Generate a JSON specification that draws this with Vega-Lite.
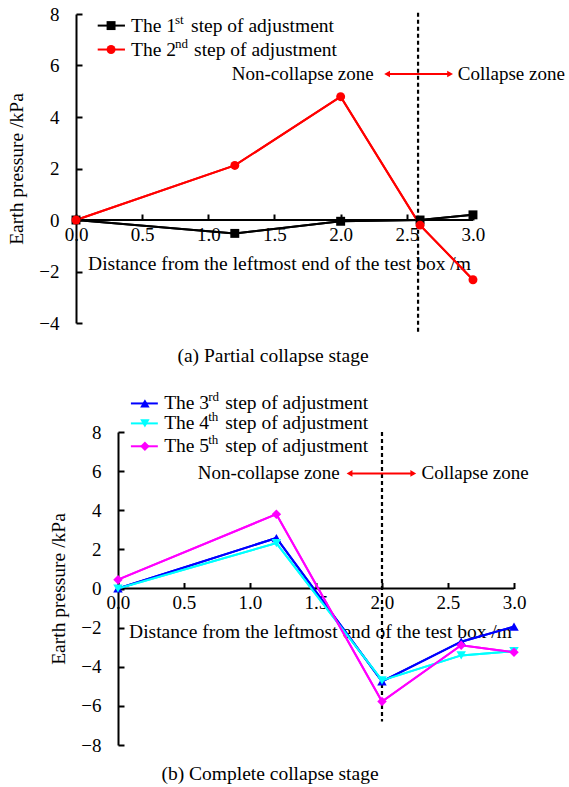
{
  "$schema": "https://vega.github.io/schema/vega-lite/v6.json",
  "padding": {"left": 6, "top": 5, "right": 0, "bottom": 0},
  "bounds": "flush",
  "spacing": 109,
  "resolve": {"scale": {"color": "independent", "shape": "independent"}},
  "datasets": {
    "one": [{}],
    "top": [
      {"x": 0, "y": 0, "series": "1st"},
      {"x": 1.2, "y": -0.52, "series": "1st"},
      {"x": 2.0, "y": -0.05, "series": "1st"},
      {"x": 2.6, "y": 0.0, "series": "1st"},
      {"x": 3.0, "y": 0.2, "series": "1st"},
      {"x": 0, "y": 0, "series": "2nd"},
      {"x": 1.2, "y": 2.12, "series": "2nd"},
      {"x": 2.0, "y": 4.79, "series": "2nd"},
      {"x": 2.6, "y": -0.2, "series": "2nd"},
      {"x": 3.0, "y": -2.32, "series": "2nd"}
    ],
    "bottom": [
      {"x": 0, "y": 0.0, "series": "3rd"},
      {"x": 1.2, "y": 2.58, "series": "3rd"},
      {"x": 2.0, "y": -4.75, "series": "3rd"},
      {"x": 2.6, "y": -2.72, "series": "3rd"},
      {"x": 3.0, "y": -1.95, "series": "3rd"},
      {"x": 0, "y": 0.0, "series": "4th"},
      {"x": 1.2, "y": 2.32, "series": "4th"},
      {"x": 2.0, "y": -4.7, "series": "4th"},
      {"x": 2.6, "y": -3.42, "series": "4th"},
      {"x": 3.0, "y": -3.2, "series": "4th"},
      {"x": 0, "y": 0.45, "series": "5th"},
      {"x": 1.2, "y": 3.8, "series": "5th"},
      {"x": 2.0, "y": -5.78, "series": "5th"},
      {"x": 2.6, "y": -2.9, "series": "5th"},
      {"x": 3.0, "y": -3.26, "series": "5th"}
    ]
  },
  "vconcat": [
    {
      "width": 438,
      "height": 309,
      "title": {"text": "(a) Partial collapse stage", "orient": "bottom", "anchor": "middle", "frame": "group", "offset": 13, "dx": -22},
      "layer": [
        {
          "data": {"name": "top"},
          "mark": {"type": "line", "strokeWidth": 2},
          "encoding": {
            "x": {"field": "x", "type": "quantitative",
              "scale": {"domain": [0, 3.31], "nice": false, "zero": false},
              "axis": {"orient": "bottom", "offset": -103, "domain": false, "values": [0, 0.5, 1, 1.5, 2, 2.5, 3], "format": ".1f", "labelFlush": false, "labelOverlap": false, "tickSize": -6, "labelPadding": 11, "title": "Distance from the leftmost end of the test box /m", "titlePadding": 10, "titleX": 203}},
            "y": {"field": "y", "type": "quantitative",
              "scale": {"domain": [-4, 8], "nice": false},
              "axis": {"values": [-4, -2, 0, 2, 4, 6, 8], "labelOverlap": false, "tickSize": -6, "labelPadding": 23, "title": "Earth pressure /kPa", "titlePadding": 12}},
            "color": {"field": "series", "type": "nominal", "scale": {"domain": ["1st", "2nd"], "range": ["#000000", "#ff0000"]}, "legend": null}
          }
        },
        {
          "data": {"name": "one"},
          "mark": {"type": "rule", "color": "black", "strokeWidth": 2},
          "encoding": {"x": {"datum": 0}, "x2": {"datum": 3}, "y": {"datum": 0}}
        },
        {
          "data": {"name": "top"},
          "mark": {"type": "line", "strokeWidth": 2},
          "encoding": {
            "x": {"field": "x", "type": "quantitative"},
            "y": {"field": "y", "type": "quantitative"},
            "color": {"field": "series", "type": "nominal", "legend": null}
          }
        },
        {
          "data": {"name": "one"},
          "mark": {"type": "rule", "color": "black", "strokeWidth": 2.2, "strokeDash": [4, 3]},
          "encoding": {"x": {"datum": 2.585}, "y": {"datum": 8.05}, "y2": {"datum": -4.4}}
        },
        {
          "data": {"name": "top"},
          "mark": {"type": "point", "filled": true, "size": 80, "opacity": 1},
          "encoding": {
            "x": {"field": "x", "type": "quantitative"},
            "y": {"field": "y", "type": "quantitative"},
            "color": {"field": "series", "type": "nominal", "legend": null},
            "shape": {"field": "series", "type": "nominal", "scale": {"domain": ["1st", "2nd"], "range": ["square", "circle"]}, "legend": null}
          }
        },
        {"data": {"name": "one"}, "mark": {"type": "rule", "color": "#000000", "strokeWidth": 2}, "encoding": {"x": {"datum": 0.164}, "x2": {"datum": 0.37}, "y": {"datum": 7.55}}},
        {"data": {"name": "one"}, "mark": {"type": "point", "shape": "square", "filled": true, "opacity": 1, "size": 80, "color": "#000000"}, "encoding": {"x": {"datum": 0.265}, "y": {"datum": 7.55}}},
        {"data": {"name": "one"}, "mark": {"type": "text", "text": "The 1", "align": "left", "baseline": "middle", "fontSize": 19.5}, "encoding": {"x": {"datum": 0.416}, "y": {"datum": 7.55}}},
        {"data": {"name": "one"}, "mark": {"type": "text", "text": "st", "align": "left", "baseline": "middle", "fontSize": 13, "dx": 44, "dy": -6}, "encoding": {"x": {"datum": 0.416}, "y": {"datum": 7.55}}},
        {"data": {"name": "one"}, "mark": {"type": "text", "text": "step of adjustment", "align": "left", "baseline": "middle", "fontSize": 19.5, "dx": 60}, "encoding": {"x": {"datum": 0.416}, "y": {"datum": 7.55}}},
        {"data": {"name": "one"}, "mark": {"type": "rule", "color": "#ff0000", "strokeWidth": 2}, "encoding": {"x": {"datum": 0.164}, "x2": {"datum": 0.37}, "y": {"datum": 6.62}}},
        {"data": {"name": "one"}, "mark": {"type": "point", "shape": "circle", "filled": true, "opacity": 1, "size": 80, "color": "#ff0000"}, "encoding": {"x": {"datum": 0.265}, "y": {"datum": 6.62}}},
        {"data": {"name": "one"}, "mark": {"type": "text", "text": "The 2", "align": "left", "baseline": "middle", "fontSize": 19.5}, "encoding": {"x": {"datum": 0.416}, "y": {"datum": 6.62}}},
        {"data": {"name": "one"}, "mark": {"type": "text", "text": "nd", "align": "left", "baseline": "middle", "fontSize": 13, "dx": 44, "dy": -6}, "encoding": {"x": {"datum": 0.416}, "y": {"datum": 6.62}}},
        {"data": {"name": "one"}, "mark": {"type": "text", "text": "step of adjustment", "align": "left", "baseline": "middle", "fontSize": 19.5, "dx": 63}, "encoding": {"x": {"datum": 0.416}, "y": {"datum": 6.62}}},
        {"data": {"name": "one"}, "mark": {"type": "text", "text": "Non-collapse zone", "align": "right", "baseline": "middle", "fontSize": 19}, "encoding": {"x": {"datum": 2.25}, "y": {"datum": 5.67}}},
        {"data": {"name": "one"}, "mark": {"type": "text", "text": "Collapse zone", "align": "left", "baseline": "middle", "fontSize": 19}, "encoding": {"x": {"datum": 2.885}, "y": {"datum": 5.67}}},
        {"data": {"name": "one"}, "mark": {"type": "rule", "color": "#ff0000", "strokeWidth": 2}, "encoding": {"x": {"datum": 2.35}, "x2": {"datum": 2.83}, "y": {"datum": 5.67}}},
        {"data": {"name": "one"}, "mark": {"type": "point", "shape": "triangle-left", "filled": true, "opacity": 1, "size": 45, "color": "#ff0000"}, "encoding": {"x": {"datum": 2.351}, "y": {"datum": 5.67}}},
        {"data": {"name": "one"}, "mark": {"type": "point", "shape": "triangle-right", "filled": true, "opacity": 1, "size": 45, "color": "#ff0000"}, "encoding": {"x": {"datum": 2.827}, "y": {"datum": 5.67}}}
      ]
    },
    {
      "width": 438,
      "height": 313,
      "title": {"text": "(b) Complete collapse stage", "orient": "bottom", "anchor": "middle", "frame": "group", "offset": 10, "dx": -25},
      "layer": [
        {
          "data": {"name": "bottom"},
          "mark": {"type": "line", "strokeWidth": 2},
          "encoding": {
            "x": {"field": "x", "type": "quantitative",
              "scale": {"domain": [-0.318, 3], "nice": false, "zero": false},
              "axis": {"orient": "bottom", "offset": -156.5, "domain": false, "values": [0, 0.5, 1, 1.5, 2, 2.5, 3], "format": ".1f", "labelFlush": false, "labelOverlap": false, "tickSize": -6, "labelPadding": 11, "title": "Distance from the leftmost end of the test box /m", "titlePadding": 10, "titleX": 244}},
            "y": {"field": "y", "type": "quantitative",
              "scale": {"domain": [-8, 8], "nice": false},
              "axis": {"offset": -42, "values": [-8, -6, -4, -2, 0, 2, 4, 6, 8], "tickCount": 9, "labelOverlap": false, "labelSeparation": 0, "tickSize": -6, "labelPadding": 23, "title": "Earth pressure /kPa", "titlePadding": 12}},
            "color": {"field": "series", "type": "nominal", "scale": {"domain": ["3rd", "4th", "5th"], "range": ["#0000ff", "#00ffff", "#ff00ff"]}, "legend": null}
          }
        },
        {
          "data": {"name": "one"},
          "mark": {"type": "rule", "color": "black", "strokeWidth": 2},
          "encoding": {"x": {"datum": 0}, "x2": {"datum": 3}, "y": {"datum": 0}}
        },
        {
          "data": {"name": "one"},
          "mark": {"type": "rule", "color": "black", "strokeWidth": 2.2, "strokeDash": [4, 3]},
          "encoding": {"x": {"datum": 2.0}, "y": {"datum": 8.0}, "y2": {"datum": -6.8}}
        },
        {
          "data": {"name": "bottom"},
          "mark": {"type": "line", "strokeWidth": 2},
          "encoding": {
            "x": {"field": "x", "type": "quantitative"},
            "y": {"field": "y", "type": "quantitative"},
            "color": {"field": "series", "type": "nominal", "legend": null}
          }
        },
        {
          "data": {"name": "bottom"},
          "mark": {"type": "point", "filled": true, "size": 90, "opacity": 1},
          "encoding": {
            "x": {"field": "x", "type": "quantitative"},
            "y": {"field": "y", "type": "quantitative"},
            "color": {"field": "series", "type": "nominal", "legend": null},
            "shape": {"field": "series", "type": "nominal", "scale": {"domain": ["3rd", "4th", "5th"], "range": ["triangle-up", "triangle-down", "diamond"]}, "legend": null}
          }
        },
        {"data": {"name": "one"}, "mark": {"type": "rule", "color": "#0000ff", "strokeWidth": 2}, "encoding": {"x": {"datum": 0.098}, "x2": {"datum": 0.302}, "y": {"datum": 9.46}}},
        {"data": {"name": "one"}, "mark": {"type": "point", "shape": "triangle-up", "filled": true, "opacity": 1, "size": 90, "color": "#0000ff"}, "encoding": {"x": {"datum": 0.204}, "y": {"datum": 9.46}}},
        {"data": {"name": "one"}, "mark": {"type": "text", "text": "The 3", "align": "left", "baseline": "middle", "fontSize": 19.5}, "encoding": {"x": {"datum": 0.35}, "y": {"datum": 9.46}}},
        {"data": {"name": "one"}, "mark": {"type": "text", "text": "rd", "align": "left", "baseline": "middle", "fontSize": 13, "dx": 44, "dy": -6}, "encoding": {"x": {"datum": 0.35}, "y": {"datum": 9.46}}},
        {"data": {"name": "one"}, "mark": {"type": "text", "text": "step of adjustment", "align": "left", "baseline": "middle", "fontSize": 19.5, "dx": 61}, "encoding": {"x": {"datum": 0.35}, "y": {"datum": 9.46}}},
        {"data": {"name": "one"}, "mark": {"type": "rule", "color": "#00ffff", "strokeWidth": 2}, "encoding": {"x": {"datum": 0.098}, "x2": {"datum": 0.302}, "y": {"datum": 8.44}}},
        {"data": {"name": "one"}, "mark": {"type": "point", "shape": "triangle-down", "filled": true, "opacity": 1, "size": 90, "color": "#00ffff"}, "encoding": {"x": {"datum": 0.204}, "y": {"datum": 8.44}}},
        {"data": {"name": "one"}, "mark": {"type": "text", "text": "The 4", "align": "left", "baseline": "middle", "fontSize": 19.5}, "encoding": {"x": {"datum": 0.35}, "y": {"datum": 8.44}}},
        {"data": {"name": "one"}, "mark": {"type": "text", "text": "th", "align": "left", "baseline": "middle", "fontSize": 13, "dx": 44, "dy": -6}, "encoding": {"x": {"datum": 0.35}, "y": {"datum": 8.44}}},
        {"data": {"name": "one"}, "mark": {"type": "text", "text": "step of adjustment", "align": "left", "baseline": "middle", "fontSize": 19.5, "dx": 61}, "encoding": {"x": {"datum": 0.35}, "y": {"datum": 8.44}}},
        {"data": {"name": "one"}, "mark": {"type": "rule", "color": "#ff00ff", "strokeWidth": 2}, "encoding": {"x": {"datum": 0.098}, "x2": {"datum": 0.302}, "y": {"datum": 7.27}}},
        {"data": {"name": "one"}, "mark": {"type": "point", "shape": "diamond", "filled": true, "opacity": 1, "size": 90, "color": "#ff00ff"}, "encoding": {"x": {"datum": 0.204}, "y": {"datum": 7.27}}},
        {"data": {"name": "one"}, "mark": {"type": "text", "text": "The 5", "align": "left", "baseline": "middle", "fontSize": 19.5}, "encoding": {"x": {"datum": 0.35}, "y": {"datum": 7.27}}},
        {"data": {"name": "one"}, "mark": {"type": "text", "text": "th", "align": "left", "baseline": "middle", "fontSize": 13, "dx": 44, "dy": -6}, "encoding": {"x": {"datum": 0.35}, "y": {"datum": 7.27}}},
        {"data": {"name": "one"}, "mark": {"type": "text", "text": "step of adjustment", "align": "left", "baseline": "middle", "fontSize": 19.5, "dx": 61}, "encoding": {"x": {"datum": 0.35}, "y": {"datum": 7.27}}},
        {"data": {"name": "one"}, "mark": {"type": "text", "text": "Non-collapse zone", "align": "right", "baseline": "middle", "fontSize": 19}, "encoding": {"x": {"datum": 1.68}, "y": {"datum": 5.88}}},
        {"data": {"name": "one"}, "mark": {"type": "text", "text": "Collapse zone", "align": "left", "baseline": "middle", "fontSize": 19}, "encoding": {"x": {"datum": 2.3}, "y": {"datum": 5.88}}},
        {"data": {"name": "one"}, "mark": {"type": "rule", "color": "#ff0000", "strokeWidth": 2}, "encoding": {"x": {"datum": 1.75}, "x2": {"datum": 2.24}, "y": {"datum": 5.88}}},
        {"data": {"name": "one"}, "mark": {"type": "point", "shape": "triangle-left", "filled": true, "opacity": 1, "size": 45, "color": "#ff0000"}, "encoding": {"x": {"datum": 1.754}, "y": {"datum": 5.88}}},
        {"data": {"name": "one"}, "mark": {"type": "point", "shape": "triangle-right", "filled": true, "opacity": 1, "size": 45, "color": "#ff0000"}, "encoding": {"x": {"datum": 2.237}, "y": {"datum": 5.88}}}
      ]
    }
  ],
  "config": {
    "font": "Liberation Serif",
    "view": {"stroke": null},
    "axis": {
      "grid": false,
      "labelOverlap": false,
      "domainColor": "#000000",
      "domainWidth": 2,
      "tickColor": "#000000",
      "tickWidth": 2,
      "labelColor": "#000000",
      "labelFontSize": 19,
      "labelFont": "Liberation Serif",
      "titleFont": "Liberation Serif",
      "titleFontSize": 19.5,
      "titleFontWeight": "normal",
      "titleColor": "#000000"
    },
    "title": {"font": "Liberation Serif", "fontSize": 19.5, "fontWeight": "normal", "color": "#000000"},
    "text": {"font": "Liberation Serif", "color": "#000000"}
  }
}
